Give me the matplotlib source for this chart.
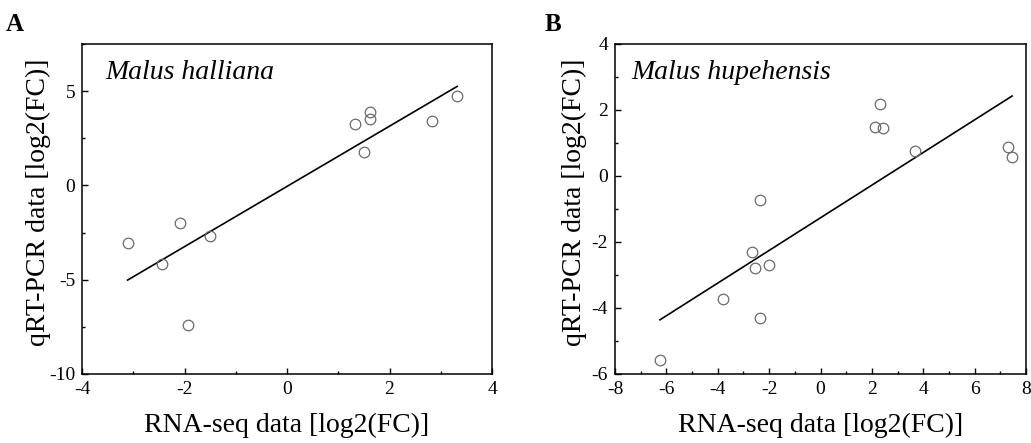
import numpy as np
import matplotlib
matplotlib.use("Agg")
import matplotlib.pyplot as plt
from matplotlib.ticker import MultipleLocator

plt.rcParams['font.family'] = ['Liberation Serif', 'DejaVu Serif']
plt.rcParams['axes.unicode_minus'] = False

# Panel A: Malus halliana
rna_a = [-3.11, -2.44, -2.09, -1.93, -1.50, 1.32, 1.50, 1.62, 1.62, 2.83, 3.32]
qpcr_a = [-3.06, -4.19, -2.01, -7.40, -2.67, 3.25, 1.78, 3.87, 3.52, 3.43, 4.73]

# Panel B: Malus hupehensis
rna_b = [-6.25, -3.78, -2.65, -2.54, -2.35, -2.37, -2.02, 2.12, 2.33, 2.44, 3.68, 7.31, 7.46]
qpcr_b = [-5.58, -3.72, -2.31, -2.78, -0.72, -4.30, -2.71, 1.49, 2.17, 1.44, 0.76, 0.89, 0.58]

xticks_a = [-4, -2, 0, 2, 4]
yticks_a = [-10, -5, 0, 5]
xticks_b = [-8, -6, -4, -2, 0, 2, 4, 6, 8]
yticks_b = [-6, -4, -2, 0, 2, 4]

W, H = 1031, 443
fig = plt.figure(figsize=(W / 100, H / 100), dpi=100)

def px_axes(l, r, t, b):
    return fig.add_axes([l / W, 1 - b / H, (r - l) / W, (b - t) / H])

axA = px_axes(82, 492, 44, 374)
axB = px_axes(615, 1026, 44, 374)

def style(ax, x, y, xlim, ylim, xt, yt, xminor, yminor, title, title_x, letter, letter_x, ylab_x):
    ax.plot(x, y, 'o', ms=7.6, mfc='none', mec='#6a6a6a', mew=0.9, zorder=3)
    k, b0 = np.polyfit(x, y, 1)
    xs = np.array([min(x), max(x)])
    ax.plot(xs, k * xs + b0, color='black', lw=1.2, zorder=2)
    ax.set_xlim(*xlim)
    ax.set_ylim(*ylim)
    ax.set_xticks(xt)
    ax.set_yticks(yt)
    ax.set_xticklabels([str(v) for v in xt])
    ax.set_yticklabels([str(v) for v in yt])
    ax.xaxis.set_minor_locator(MultipleLocator(xminor))
    ax.yaxis.set_minor_locator(MultipleLocator(yminor))
    ax.tick_params(which='both', direction='in', top=False, right=False, width=1.0)
    ax.tick_params(which='major', length=4, labelsize=14, pad=5)
    ax.tick_params(which='minor', length=2.2)
    for s in ax.spines.values():
        s.set_linewidth(1.1)
    ax.set_xlabel('RNA-seq data [log2(FC)]', fontsize=20, labelpad=11)
    ax.set_ylabel('qRT-PCR data [log2(FC)]', fontsize=20)
    ax.yaxis.set_label_coords(ylab_x, 0.52)
    ax.text(title_x, 0.894, title, transform=ax.transAxes, fontsize=20,
            style='italic', ha='left', va='baseline')
    fig.text(letter_x / W, 1 - 31 / H, letter, fontsize=18, fontweight='bold',
             ha='left', va='baseline')

style(axA, rna_a, qpcr_a, (-4, 4), (-10, 7.5), xticks_a, yticks_a, 1, 2.5,
      'Malus halliana', 0.056, 'A', 6, -0.075)
style(axB, rna_b, qpcr_b, (-8, 8), (-6, 4), xticks_b, yticks_b, 1, 1,
      'Malus hupehensis', 0.04, 'B', 545, -0.068)

fig.savefig('out.png', dpi=100)
